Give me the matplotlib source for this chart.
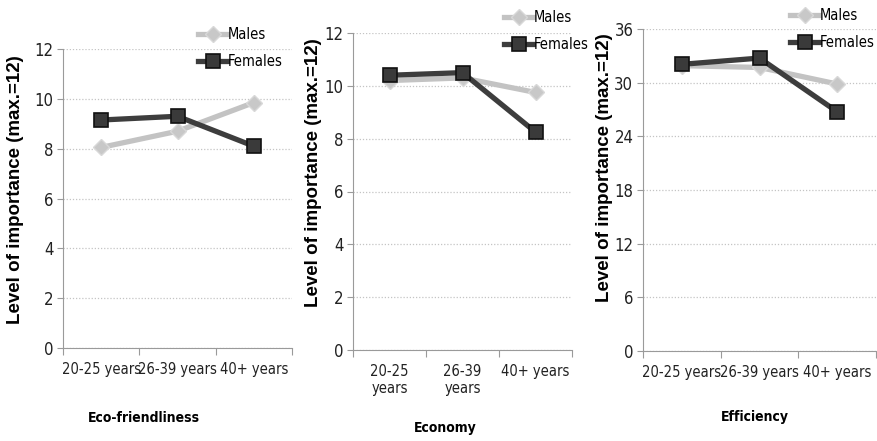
import matplotlib
matplotlib.use("Agg")
import matplotlib.pyplot as plt
import numpy as np

plt.rcParams['font.family'] = ['DejaVu Sans']
plt.rcParams['font.stretch'] = 'condensed'

groups = ['20-25 years', '26-39 years', '40+ years']
groups_wrapped = ['20-25\nyears', '26-39\nyears', '40+ years']

eco_males = [8.05, 8.7, 9.85]
eco_females = [9.15, 9.3, 8.1]
econ_males = [10.2, 10.3, 9.75]
econ_females = [10.4, 10.5, 8.25]
eff_males = [31.9, 31.7, 29.85]
eff_females = [32.05, 32.75, 26.75]

W, H = 877, 441
fig = plt.figure(figsize=(W / 100, H / 100), dpi=100)


def px_axes(left, right, top, bottom):
    return fig.add_axes([left / W, 1 - bottom / H, (right - left) / W, (bottom - top) / H])


def panel(ax, males, females, ymax, step, labels, title, title_xy, leg_xy, lab_xy):
    x = np.arange(len(males))
    ax.plot(x, males, color='#c3c3c3', lw=3.8, marker='D', ms=8,
            mfc='#c8c8c8', mec='#d8d8d8', label='Males', zorder=3)
    ax.plot(x, females, color='#3d3d3d', lw=3.8, marker='s', ms=10,
            mfc='#3a3a3a', mec='#111111', mew=1.2, label='Females', zorder=4)
    ax.set_xlim(-0.5, 2.5)
    ax.set_ylim(0, ymax)
    ax.set_yticks(np.arange(0, ymax + 0.1, step))
    ax.grid(axis='y', ls=(0, (1, 1.5)), color='#c4c4c4', lw=0.9)
    ax.set_axisbelow(True)
    for s in ['top', 'right']:
        ax.spines[s].set_visible(False)
    for s in ['left', 'bottom']:
        ax.spines[s].set_color('#9a9a9a')
    ax.set_xticks([-0.5, 0.5, 1.5, 2.5])
    ax.set_xticklabels([])
    ax.tick_params(axis='x', which='major', length=5, color='#9a9a9a')
    ax.set_xticks(x, minor=True)
    ax.set_xticklabels(labels, minor=True)
    ax.tick_params(axis='x', which='minor', length=0, pad=10, labelsize=10.5, labelcolor='#222222')
    ax.tick_params(axis='y', length=4, color='#9a9a9a', labelsize=12, labelcolor='#222222', pad=3)
    ax.set_ylabel('Level of importance (max.=12)', fontsize=13.5, fontweight='bold',
                  family=['Liberation Sans', 'DejaVu Sans'], fontstretch='normal')
    ax.yaxis.set_label_coords(*lab_xy)
    ax.legend(loc='center left', bbox_to_anchor=(leg_xy[0] / W, 1 - leg_xy[1] / H),
              bbox_transform=fig.transFigure, frameon=False, fontsize=10.5,
              handlelength=2.0, handletextpad=0.05, labelspacing=0.8,
              borderpad=0, borderaxespad=0)
    fig.text(title_xy[0] / W, 1 - title_xy[1] / H, title, ha='center', va='center',
             fontsize=10, fontweight='bold')


ax1 = px_axes(63, 292, 49, 348)
panel(ax1, eco_males, eco_females, 12, 2, groups, 'Eco-friendliness', (144, 418), (198, 48), (-0.17, 0.53))

ax2 = px_axes(353, 572, 33, 350)
panel(ax2, econ_males, econ_females, 12, 2, groups_wrapped, 'Economy', (445, 428), (504, 31), (-0.14, 0.56))

ax3 = px_axes(643, 876, 29, 351)
panel(ax3, eff_males, eff_females, 36, 6, groups, 'Efficiency', (755, 417), (790, 29), (-0.13, 0.57))

fig.savefig('out.png', dpi=100)
